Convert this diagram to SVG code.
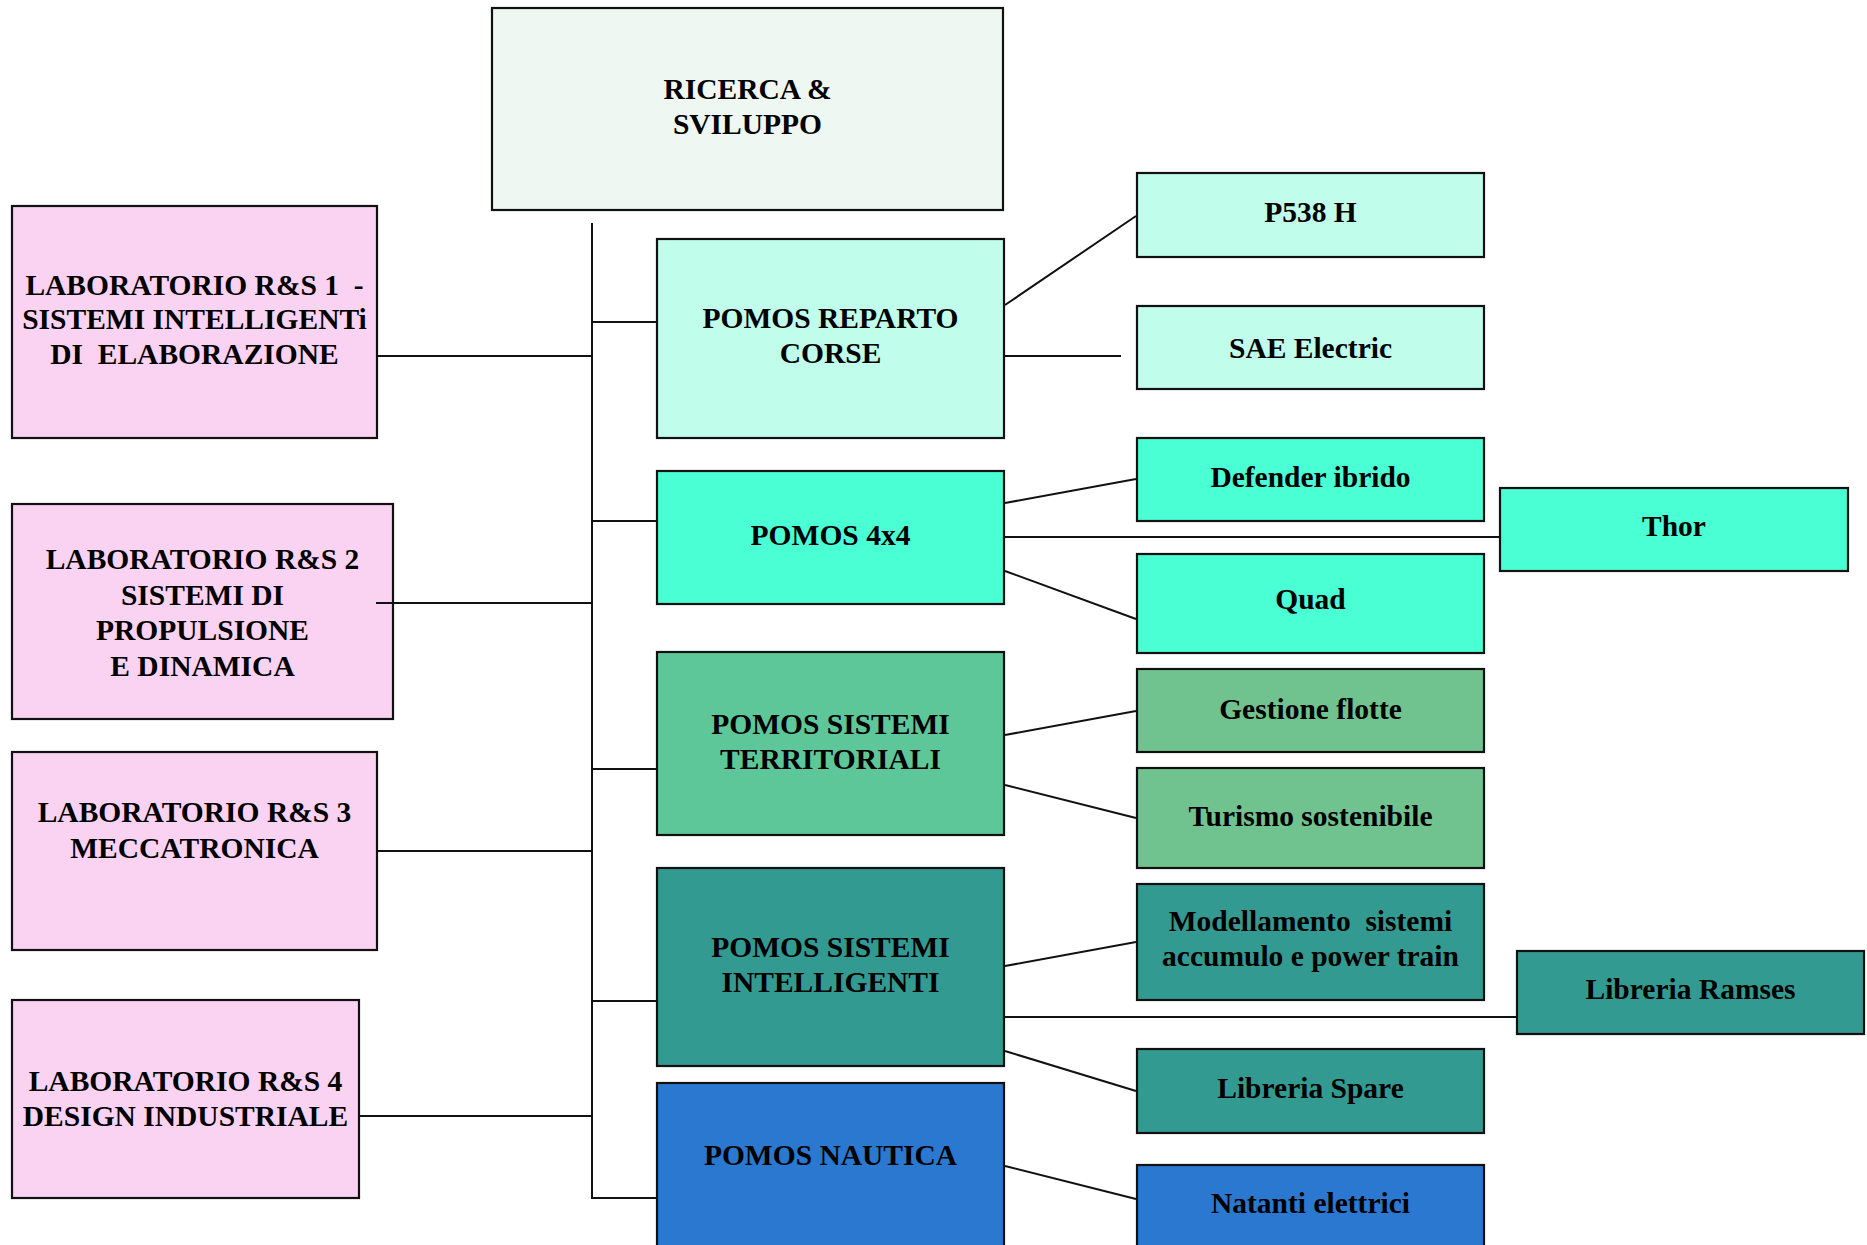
<svg xmlns="http://www.w3.org/2000/svg" width="1867" height="1245" viewBox="0 0 1867 1245">
<style>
rect{stroke:#111;stroke-width:2.2}
text{font-family:"Liberation Serif","Times New Roman",serif;font-weight:bold;font-size:29.5px;fill:#000;text-anchor:middle;white-space:pre}
#connectors line{stroke:#111;stroke-width:2}
.rs{fill:#EEF7F1}.lab{fill:#FAD3F3}.rc{fill:#C0FDEB}.x4{fill:#4AFFD3}.st{fill:#5EC79A}.stc{fill:#70C38F}.si{fill:#339A91}.na{fill:#2A78CF}
</style>
<rect width="1867" height="1245" fill="#fff" style="stroke:none"/>
<g id="ricerca"><rect class="rs" x="492" y="8" width="511" height="202"/><text x="747.5" y="99">RICERCA &amp;</text><text x="747.5" y="134">SVILUPPO</text></g>
<g id="lab1"><rect class="lab" x="12" y="206" width="365" height="232"/><text x="194.5" y="295">LABORATORIO R&amp;S 1  -</text><text x="194.5" y="329">SISTEMI INTELLIGENTi</text><text x="194.5" y="364">DI  ELABORAZIONE</text></g>
<g id="lab2"><rect class="lab" x="12" y="504" width="381" height="215"/><text x="202.5" y="569">LABORATORIO R&amp;S 2</text><text x="202.5" y="605">SISTEMI DI</text><text x="202.5" y="640">PROPULSIONE</text><text x="202.5" y="676">E DINAMICA</text></g>
<g id="lab3"><rect class="lab" x="12" y="752" width="365" height="198"/><text x="194.5" y="822">LABORATORIO R&amp;S 3</text><text x="194.5" y="858">MECCATRONICA</text></g>
<g id="lab4"><rect class="lab" x="12" y="1000" width="347" height="198"/><text x="185.5" y="1091">LABORATORIO R&amp;S 4</text><text x="185.5" y="1126">DESIGN INDUSTRIALE</text></g>
<g id="reparto-corse"><rect class="rc" x="657" y="239" width="347" height="199"/><text x="830.5" y="328">POMOS REPARTO</text><text x="830.5" y="363">CORSE</text></g>
<g id="pomos-4x4"><rect class="x4" x="657" y="471" width="347" height="133"/><text x="830.5" y="545">POMOS 4x4</text></g>
<g id="sistemi-territoriali"><rect class="st" x="657" y="652" width="347" height="183"/><text x="830.5" y="734">POMOS SISTEMI</text><text x="830.5" y="769">TERRITORIALI</text></g>
<g id="sistemi-intelligenti"><rect class="si" x="657" y="868" width="347" height="198"/><text x="830.5" y="957">POMOS SISTEMI</text><text x="830.5" y="992">INTELLIGENTI</text></g>
<g id="nautica"><rect class="na" x="657" y="1083" width="347" height="180"/><text x="830.5" y="1165">POMOS NAUTICA</text></g>
<g id="p538"><rect class="rc" x="1137" y="173" width="347" height="84"/><text x="1310.5" y="222">P538 H</text></g>
<g id="sae"><rect class="rc" x="1137" y="306" width="347" height="83"/><text x="1310.5" y="358">SAE Electric</text></g>
<g id="defender"><rect class="x4" x="1137" y="438" width="347" height="83"/><text x="1310.5" y="487">Defender ibrido</text></g>
<g id="thor"><rect class="x4" x="1500" y="488" width="348" height="83"/><text x="1674" y="536">Thor</text></g>
<g id="quad"><rect class="x4" x="1137" y="554" width="347" height="99"/><text x="1310.5" y="609">Quad</text></g>
<g id="gestione"><rect class="stc" x="1137" y="669" width="347" height="83"/><text x="1310.5" y="719">Gestione flotte</text></g>
<g id="turismo"><rect class="stc" x="1137" y="768" width="347" height="100"/><text x="1310.5" y="826">Turismo sostenibile</text></g>
<g id="modellamento"><rect class="si" x="1137" y="884" width="347" height="116"/><text x="1310.5" y="931">Modellamento  sistemi</text><text x="1310.5" y="966">accumulo e power train</text></g>
<g id="ramses"><rect class="si" x="1517" y="951" width="347" height="83"/><text x="1690.5" y="999">Libreria Ramses</text></g>
<g id="spare"><rect class="si" x="1137" y="1049" width="347" height="84"/><text x="1310.5" y="1098">Libreria Spare</text></g>
<g id="natanti"><rect class="na" x="1137" y="1165" width="347" height="100"/><text x="1310.5" y="1213">Natanti elettrici</text></g>
<g id="connectors">
<line x1="592" y1="223" x2="592" y2="1199"/>
<line x1="378" y1="356" x2="592" y2="356"/>
<line x1="376" y1="603" x2="592" y2="603"/>
<line x1="378" y1="851" x2="592" y2="851"/>
<line x1="360" y1="1116" x2="592" y2="1116"/>
<line x1="592" y1="322" x2="656" y2="322"/>
<line x1="592" y1="521" x2="656" y2="521"/>
<line x1="592" y1="769" x2="656" y2="769"/>
<line x1="592" y1="1001" x2="656" y2="1001"/>
<line x1="592" y1="1198" x2="656" y2="1198"/>
<line x1="1005" y1="305" x2="1136" y2="216"/>
<line x1="1005" y1="356" x2="1121" y2="356"/>
<line x1="1005" y1="503" x2="1136" y2="479"/>
<line x1="1005" y1="537" x2="1499" y2="537"/>
<line x1="1005" y1="571" x2="1136" y2="619"/>
<line x1="1005" y1="735" x2="1136" y2="711"/>
<line x1="1005" y1="785" x2="1136" y2="818"/>
<line x1="1005" y1="966" x2="1136" y2="942"/>
<line x1="1005" y1="1017" x2="1516" y2="1017"/>
<line x1="1005" y1="1051" x2="1136" y2="1091"/>
<line x1="1005" y1="1166" x2="1136" y2="1199"/>
</g>
</svg>
